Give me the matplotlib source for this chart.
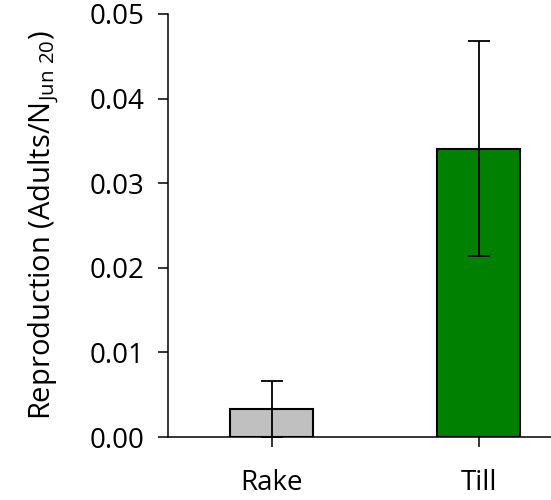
import matplotlib
matplotlib.use("Agg")
import matplotlib.pyplot as plt

plt.rcParams["font.family"] = ["Open Sans", "DejaVu Sans"]
plt.rcParams["mathtext.default"] = "regular"

# Dados
tratamentos = ["Rake", "Till"]
reproducao = [0.0033, 0.0341]
erro = [0.0033, 0.0127]
cores = ["#C0C0C0", "#008000"]

fig = plt.figure(figsize=(5.51, 5.0), dpi=100)
ax = fig.add_axes([0.305, 0.126, 0.695, 0.846])

posicoes = range(len(tratamentos))
ax.bar(posicoes, reproducao, width=0.4, color=cores, edgecolor="black", linewidth=1.5, zorder=2)
ax.errorbar(posicoes, reproducao, yerr=erro, fmt="none", ecolor="black",
            elinewidth=1.3, capsize=8, capthick=1.3, zorder=3)

ax.set_xlim(-0.5, 1.35)
ax.set_ylim(0, 0.05)
ax.set_yticks([0, 0.01, 0.02, 0.03, 0.04, 0.05])
ax.set_yticklabels(["0.00", "0.01", "0.02", "0.03", "0.04", "0.05"])
ax.set_xticks(list(posicoes))
ax.set_xticklabels(tratamentos)

ax.spines["top"].set_visible(False)
ax.spines["right"].set_visible(False)
for lado in ["left", "bottom"]:
    ax.spines[lado].set_linewidth(1.1)
ax.tick_params(axis="both", direction="out", length=7, width=1.1, labelsize=20)
ax.tick_params(axis="x", pad=16)
ax.tick_params(axis="y", pad=10)

ax.set_ylabel("Reproduction (Adults/N$_{Jun\\ 20}$)", fontsize=21, labelpad=20)

plt.savefig("out.png", dpi=100)
plt.close()
